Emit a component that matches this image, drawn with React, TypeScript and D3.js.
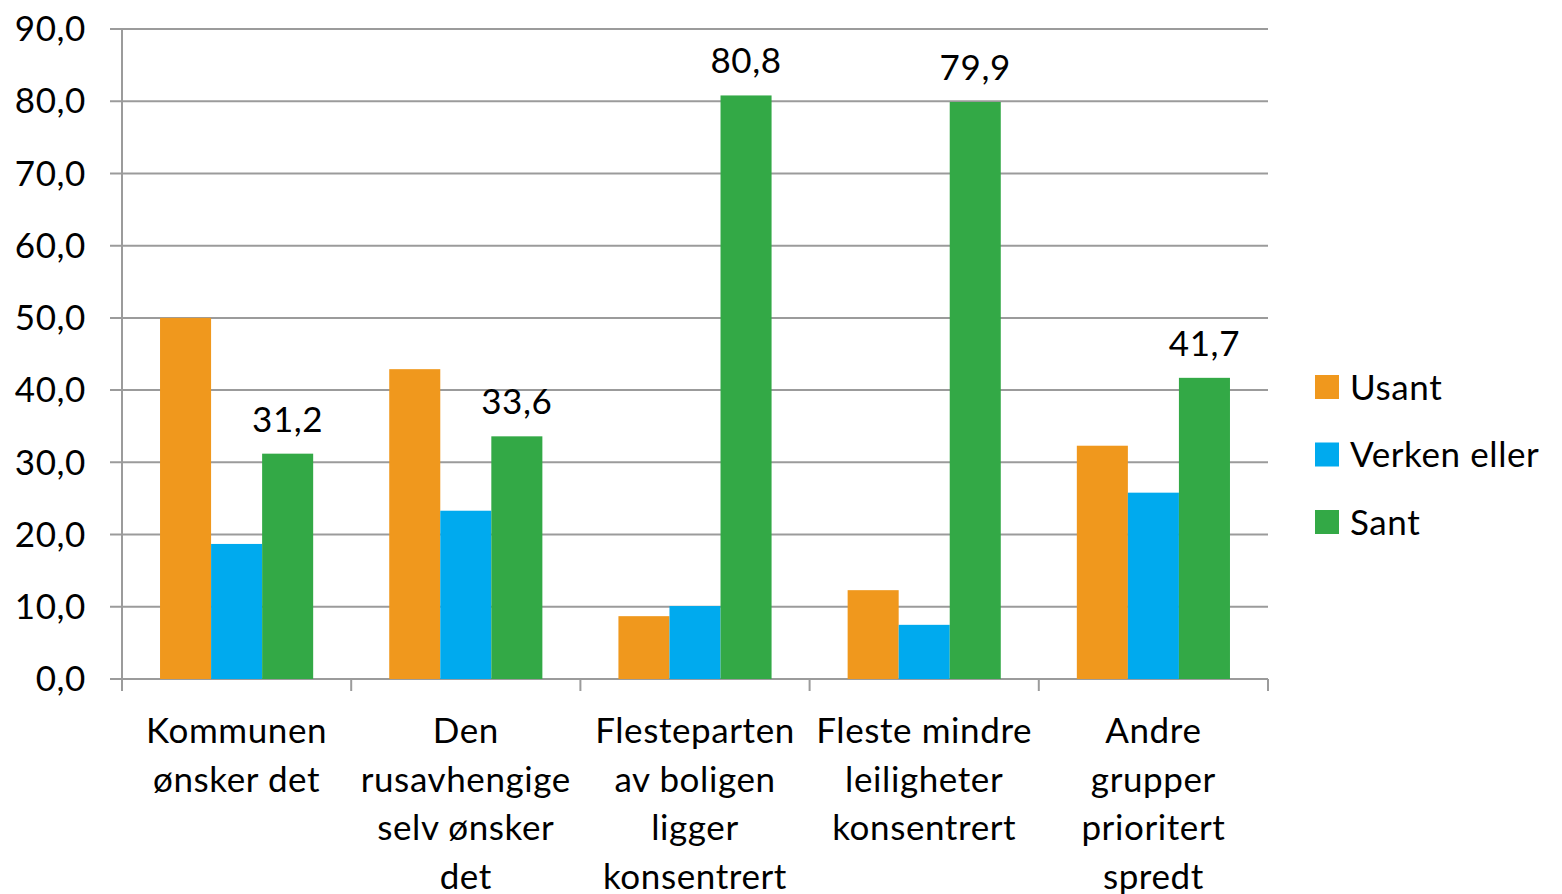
import React from "react";
import * as d3 from "d3";

const categories = [
  ["Kommunen", "ønsker det"],
  ["Den", "rusavhengige", "selv ønsker", "det"],
  ["Flesteparten", "av boligen", "ligger", "konsentrert"],
  ["Fleste mindre", "leiligheter", "konsentrert"],
  ["Andre", "grupper", "prioritert", "spredt"],
];
const seriesNames = ["Usant", "Verken eller", "Sant"];
const usant = [50.0, 42.9, 8.7, 12.3, 32.3];
const verken = [18.7, 23.3, 10.1, 7.5, 25.8];
const sant = [31.2, 33.6, 80.8, 79.9, 41.7];
const yTicks = [0, 10, 20, 30, 40, 50, 60, 70, 80, 90];

const colors = ["#F0981D", "#00AAEE", "#33A946"];
const font = "Lato, 'Open Sans', sans-serif";

export default function App() {
  const width = 1562,
    height = 894;
  const margin = { left: 122, right: 294, top: 29, bottom: 215 };

  const keys = categories.map((_, i) => String(i));
  const values = [usant, verken, sant];

  const x = d3
    .scaleBand()
    .domain(keys)
    .range([margin.left, width - margin.right]);
  const xInner = d3
    .scaleBand()
    .domain(seriesNames)
    .range([0, x.bandwidth()])
    .paddingOuter(0.745);
  const y = d3
    .scaleLinear()
    .domain([0, 90])
    .range([height - margin.bottom, margin.top]);

  const fmt = (v) => v.toFixed(1).replace(".", ",");
  const grid = "#9b9b9b";
  const x0 = margin.left,
    x1 = width - margin.right;
  const yBase = y(0);
  const fs = 35;
  const ls = 0.6;

  return (
    <svg
      width={width}
      height={height}
      style={{ position: "absolute", left: 0, top: 0, background: "#fff" }}
      fontFamily={font}
      letterSpacing={ls}
    >
      {/* gridlines + y labels */}
      {yTicks.map((t) => (
        <g key={t}>
          <line x1={x0 - 12} x2={x1} y1={y(t)} y2={y(t)} stroke={grid} strokeWidth={2} />
          <text
            x={x0 - 36}
            y={y(t)}
            dy="0.35em"
            textAnchor="end"
            fontSize={fs}
            fill="#000"
          >
            {fmt(t)}
          </text>
        </g>
      ))}
      {/* y axis line */}
      <line x1={x0} x2={x0} y1={y(90)} y2={yBase + 12} stroke={grid} strokeWidth={2} />
      {/* x ticks */}
      {keys.map((k) => (
        <line
          key={"t" + k}
          x1={x(k) + x.bandwidth()}
          x2={x(k) + x.bandwidth()}
          y1={yBase}
          y2={yBase + 12}
          stroke={grid}
          strokeWidth={2}
        />
      ))}

      {/* bars */}
      {keys.map((k, i) => (
        <g key={"g" + k} transform={`translate(${x(k)},0)`}>
          {seriesNames.map((s, j) => (
            <rect
              key={s}
              x={xInner(s)}
              width={xInner.bandwidth()}
              y={y(values[j][i])}
              height={yBase - y(values[j][i])}
              fill={colors[j]}
            />
          ))}
          <text
            x={xInner("Sant") + xInner.bandwidth() / 2}
            y={y(sant[i]) - 22}
            textAnchor="middle"
            fontSize={fs}
            fill="#000"
          >
            {fmt(sant[i])}
          </text>
        </g>
      ))}

      {/* category labels */}
      {keys.map((k, i) => (
        <text
          key={"c" + k}
          x={x(k) + x.bandwidth() / 2}
          y={yBase + 64}
          textAnchor="middle"
          fontSize={fs}
          fill="#000"
        >
          {categories[i].map((line, li) => (
            <tspan key={li} x={x(k) + x.bandwidth() / 2} dy={li === 0 ? 0 : 48.5}>
              {line}
            </tspan>
          ))}
        </text>
      ))}

      {/* legend */}
      {seriesNames.map((s, j) => (
        <g key={"l" + s} transform={`translate(1315,${375 + j * 67.5})`}>
          <rect width={24} height={24} fill={colors[j]} />
          <text x={35} y={12} dy="0.36em" fontSize={fs} fill="#000">
            {s}
          </text>
        </g>
      ))}
    </svg>
  );
}
